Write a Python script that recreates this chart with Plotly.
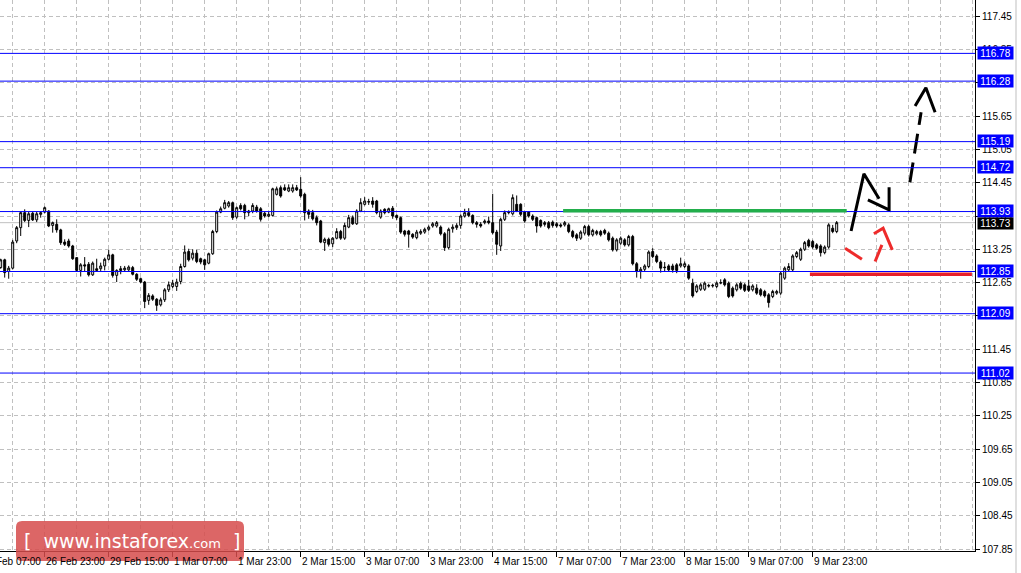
import plotly.graph_objects as go
from datetime import datetime, timedelta

# ---------------- data (USD/JPY H1) ----------------
opens = [112.92,113.06,112.85,112.91,113.40,113.64,113.91,113.77,113.90,113.78,
         113.88,113.92,113.94,113.68,113.70,113.60,113.38,113.40,113.31,113.10,
         112.87,112.97,112.98,112.79,112.90,112.90,112.95,113.07,113.15,112.78,
         112.90,112.88,112.88,112.92,112.80,112.72,112.66,112.33,112.41,112.35,
         112.25,112.34,112.52,112.58,112.58,112.67,112.94,113.21,113.09,113.18,
         113.08,113.06,113.00,113.17,113.57,113.92,113.99,114.03,114.09,113.83,
         114.04,114.04,113.91,113.94,114.01,113.98,113.90,113.85,113.86,114.24,
         114.36,114.36,114.30,114.30,114.36,114.33,114.24,113.94,113.91,113.82,
         113.76,113.37,113.43,113.35,113.45,113.57,113.45,113.65,113.82,113.71,
         113.94,114.06,114.10,114.12,114.12,113.83,113.97,113.92,113.99,113.86,
         113.82,113.58,113.58,113.52,113.46,113.54,113.56,113.61,113.67,113.67,
         113.65,113.53,113.28,113.62,113.64,113.68,113.85,113.91,113.86,113.73,
         113.70,113.73,113.76,113.73,113.56,113.31,113.79,113.91,113.89,114.06,
         114.06,113.92,113.92,113.85,113.82,113.77,113.73,113.73,113.74,113.71,
         113.69,113.69,113.69,113.57,113.51,113.45,113.54,113.66,113.51,113.53,
         113.57,113.59,113.54,113.45,113.24,113.36,113.42,113.33,113.48,112.99,
         112.85,112.89,112.94,113.21,113.13,113.02,112.93,112.95,112.95,112.97,
         112.95,112.94,112.95,112.64,112.49,112.53,112.53,112.60,112.59,112.58,
         112.64,112.70,112.64,112.55,112.52,112.64,112.61,112.59,112.52,112.55,
         112.52,112.49,112.43,112.40,112.46,112.46,112.73,112.88,112.88,113.12,
         113.07,113.25,113.41,113.39,113.33,113.31,113.19,113.29,113.63,113.57]
highs = [113.08,113.08,112.95,113.42,113.67,113.93,113.97,113.93,113.93,113.93,
         113.94,114.02,113.95,113.75,113.79,113.62,113.43,113.44,113.33,113.11,
         113.00,113.11,113.02,113.03,113.08,113.01,113.10,113.24,113.17,112.89,
         112.95,112.95,112.96,112.95,112.82,112.74,112.68,112.46,112.44,112.37,
         112.38,112.55,112.67,112.70,112.72,112.99,113.32,113.26,113.25,113.24,
         113.10,113.08,113.19,113.60,113.95,114.02,114.14,114.12,114.11,114.02,
         114.08,114.07,113.96,114.08,114.05,114.01,113.93,113.93,114.36,114.38,
         114.40,114.42,114.42,114.42,114.41,114.55,114.27,113.97,113.96,113.86,
         113.78,113.46,113.46,113.47,113.63,113.60,113.73,113.87,113.86,113.97,
         114.17,114.19,114.16,114.19,114.14,113.97,113.99,114.00,114.03,113.88,
         113.84,113.60,113.60,113.54,113.60,113.61,113.64,113.68,113.74,113.76,
         113.68,113.56,113.64,113.70,113.72,113.88,113.98,113.99,113.88,113.76,
         113.74,113.79,113.84,114.25,113.60,113.82,113.95,113.95,114.24,114.22,
         114.08,113.94,113.94,113.88,113.84,113.79,113.76,113.76,113.77,113.74,
         113.72,113.76,113.72,113.60,113.54,113.59,113.69,113.69,113.62,113.60,
         113.60,113.62,113.57,113.48,113.45,113.48,113.45,113.51,113.51,113.02,
         112.93,112.98,113.23,113.27,113.16,113.05,113.02,112.98,112.99,113.00,
         113.10,113.03,112.98,112.72,112.62,112.64,112.67,112.63,112.63,112.67,
         112.71,112.73,112.67,112.58,112.64,112.67,112.64,112.70,112.62,112.62,
         112.55,112.52,112.46,112.52,112.52,112.85,112.94,113.00,113.16,113.22,
         113.28,113.40,113.44,113.42,113.36,113.34,113.32,113.72,113.69,113.76]
lows = [112.90,112.74,112.72,112.89,113.36,113.49,113.74,113.65,113.76,113.74,
        113.82,113.90,113.65,113.55,113.55,113.33,113.31,113.28,113.06,112.86,
        112.76,112.85,112.76,112.77,112.86,112.86,112.87,113.05,112.74,112.66,
        112.80,112.86,112.86,112.78,112.68,112.64,112.19,112.25,112.32,112.14,
        112.22,112.30,112.48,112.55,112.50,112.62,112.92,113.03,113.05,113.00,
        112.98,112.88,112.98,113.15,113.54,113.90,113.97,114.00,113.78,113.80,
        113.95,113.79,113.85,113.90,113.91,113.75,113.82,113.83,113.84,114.22,
        114.18,114.30,114.28,114.27,114.30,114.18,113.77,113.80,113.77,113.68,
        113.36,113.22,113.30,113.29,113.43,113.42,113.42,113.63,113.69,113.69,
        113.92,114.04,114.05,114.00,113.88,113.80,113.88,113.90,113.80,113.78,
        113.53,113.48,113.28,113.44,113.43,113.51,113.53,113.58,113.64,113.64,
        113.50,113.22,113.25,113.55,113.60,113.62,113.82,113.83,113.70,113.64,
        113.64,113.70,113.70,113.52,113.15,113.22,113.76,113.88,113.86,113.92,
        113.85,113.73,113.82,113.76,113.55,113.64,113.66,113.61,113.64,113.64,
        113.64,113.66,113.54,113.45,113.40,113.42,113.50,113.48,113.48,113.50,
        113.48,113.51,113.39,113.21,113.21,113.33,113.30,113.30,112.96,112.74,
        112.72,112.85,112.91,113.09,113.00,112.83,112.85,112.85,112.83,112.82,
        112.92,112.91,112.70,112.38,112.46,112.50,112.50,112.56,112.56,112.55,
        112.62,112.58,112.37,112.38,112.49,112.52,112.48,112.48,112.49,112.43,
        112.40,112.38,112.20,112.37,112.43,112.43,112.70,112.85,112.85,113.09,
        113.04,113.22,113.28,113.26,113.24,113.12,113.16,113.26,113.54,113.54]
closes = [113.06,112.83,112.91,113.38,113.64,113.91,113.77,113.89,113.78,113.89,
          113.91,114.00,113.67,113.73,113.60,113.37,113.34,113.31,113.08,112.87,
          112.97,112.95,112.79,113.00,112.87,112.95,113.07,113.15,112.78,112.87,
          112.87,112.91,112.93,112.80,112.71,112.66,112.31,112.42,112.35,112.24,
          112.34,112.52,112.61,112.64,112.66,112.94,113.20,113.06,113.18,113.03,
          113.02,112.97,113.17,113.57,113.92,113.98,114.09,114.09,113.82,114.00,
          113.98,113.91,113.94,114.04,113.94,113.79,113.85,113.88,114.34,114.34,
          114.21,114.32,114.36,114.36,114.32,114.21,113.91,113.88,113.80,113.73,
          113.38,113.43,113.34,113.45,113.57,113.45,113.68,113.82,113.71,113.94,
          114.09,114.12,114.11,114.06,113.91,113.94,113.91,113.98,113.85,113.82,
          113.56,113.52,113.52,113.47,113.56,113.57,113.61,113.65,113.71,113.73,
          113.53,113.28,113.61,113.65,113.68,113.85,113.91,113.86,113.73,113.70,
          113.67,113.76,113.73,113.55,113.34,113.79,113.91,113.92,114.18,113.94,
          113.88,113.76,113.85,113.79,113.67,113.67,113.70,113.64,113.68,113.67,
          113.67,113.73,113.57,113.48,113.45,113.56,113.66,113.51,113.59,113.57,
          113.51,113.54,113.42,113.24,113.42,113.45,113.33,113.48,112.99,112.85,
          112.89,112.95,113.20,113.12,113.03,112.91,112.92,112.88,112.88,112.87,
          112.99,112.99,112.73,112.41,112.59,112.61,112.64,112.59,112.60,112.64,
          112.65,112.61,112.40,112.41,112.61,112.55,112.51,112.51,112.59,112.46,
          112.43,112.41,112.29,112.49,112.49,112.82,112.91,112.94,113.13,113.19,
          113.25,113.37,113.31,113.29,113.27,113.19,113.29,113.69,113.57,113.73]

first_bar_time = datetime(2016, 2, 26, 12)
date_labels = ["26 Feb 07:00", "26 Feb 23:00", "29 Feb 15:00", "1 Mar 07:00",
               "1 Mar 23:00", "2 Mar 15:00", "3 Mar 07:00", "3 Mar 23:00",
               "4 Mar 15:00", "7 Mar 07:00", "7 Mar 23:00", "8 Mar 15:00",
               "9 Mar 07:00", "9 Mar 23:00"]
price_ticks = [107.85, 108.45, 109.05, 109.65, 110.25, 110.85, 111.45, 112.05,
               112.65, 113.25, 113.85, 114.45, 115.05, 115.65, 116.25, 116.85, 117.45]
levels = [116.78, 116.28, 115.19, 114.72, 113.93, 112.85, 112.09, 111.02]
bid = 113.73
green_level = 113.945
red_level = 112.80

# hand-drawn forecast sketches (bar index, price)
black_zigzag_x = [212.6, 215.8, 219.6]
black_zigzag_y = [113.58, 114.61, 114.16]
black_head_x = [216.8, 222.1, 222.1]
black_head_y = [114.14, 113.96, 114.37]
up_shaft_x = [227.3, 230.1]
up_shaft_y = [114.46, 115.72]
up_head_x = [228.6, 231.3, 233.6]
up_head_y = [115.83, 116.16, 115.72]
red_seg1_x = [211.1, 215.3]
red_seg1_y = [113.27, 113.07]
red_seg2_x = [218.6, 220.3]
red_seg2_y = [113.03, 113.33]
red_head_x = [218.3, 220.6, 222.9]
red_head_y = [113.53, 113.63, 113.24]

# ---------------- time axis (H1 bars, weekends skipped) ----------------
def bar_times(start, n_before, n_total):
    t = start
    back = []
    for _ in range(n_before):
        t -= timedelta(hours=1)
        if t.weekday() == 6:
            t -= timedelta(days=2)
        back.append(t)
    back.reverse()
    fwd = []
    t = start
    while len(fwd) < n_total:
        fwd.append(t)
        t += timedelta(hours=1)
        if t.weekday() == 5:
            t += timedelta(days=2)
    return back + fwd

N_BEFORE = 10
times = bar_times(first_bar_time, N_BEFORE, 260)
fmt = lambda t: f"{t.day} {t.strftime('%b')} {t.strftime('%H:%M')}"
time_index = {fmt(t): i - N_BEFORE for i, t in enumerate(times)}
label_idx = [time_index[s] for s in date_labels]

x = list(range(len(closes)))

# ---------------- figure ----------------
W, H = 1021, 573
ML, MR, MT, MB = 0, 46, 0, 22
PW, PH = W - ML - MR, H - MT - MB
PX_PER_BAR = 4.0
X0 = -0.7 / PX_PER_BAR
XR = [X0, X0 + PW / PX_PER_BAR]
PX_PER_PRICE = 55.5
Y_BOTTOM = 107.85 - (PH - 549) / PX_PER_PRICE
YR = [Y_BOTTOM, Y_BOTTOM + PH / PX_PER_PRICE]

def xpaper(i):
    return (i - XR[0]) / (XR[1] - XR[0])

fig = go.Figure()
fig.add_trace(go.Candlestick(
    x=x, open=opens, high=highs, low=lows, close=closes,
    increasing=dict(line=dict(color="black", width=1), fillcolor="white"),
    decreasing=dict(line=dict(color="black", width=1), fillcolor="black"),
    whiskerwidth=0, showlegend=False, hoverinfo="skip"))

def sketch(xs, ys, color, width=3, dash=None):
    fig.add_trace(go.Scatter(x=xs, y=ys, mode="lines", cliponaxis=False,
                             line=dict(color=color, width=width, dash=dash),
                             showlegend=False, hoverinfo="skip"))

shapes = []
shapes.append(dict(type="line", xref="paper", x0=0, x1=1, yref="y", y0=bid, y1=bid,
                   line=dict(color="#C0C0C0", width=1), layer="below"))
for lv in levels:
    shapes.append(dict(type="line", xref="paper", x0=0, x1=1, yref="y", y0=lv, y1=lv,
                       line=dict(color="#0000FF", width=1)))
shapes.append(dict(type="line", xref="x", x0=140.6, x1=211.5, yref="y",
                   y0=green_level, y1=green_level, line=dict(color="#22AE4B", width=3.5)))
shapes.append(dict(type="line", xref="x", x0=202.3, x1=242.8, yref="y",
                   y0=red_level, y1=red_level, line=dict(color="#E8202A", width=3.5)))

sketch(black_zigzag_x, black_zigzag_y, "black")
sketch(black_head_x, black_head_y, "black")
sketch(up_shaft_x, up_shaft_y, "black", dash="20px,9px")
sketch(up_head_x, up_head_y, "black")
sketch(red_seg1_x, red_seg1_y, "#EE2B2B")
sketch(red_seg2_x, red_seg2_y, "#EE2B2B")
sketch(red_head_x, red_head_y, "#EE2B2B")

def px2paper(px, py):
    return (px - ML) / PW, (H - MB - py) / PH

def rounded_rect(x0, y0, x1, y1, r):
    def P(a, b):
        u, v = px2paper(a, b)
        return f"{u:.5f},{v:.5f}"
    return (f"M{P(x0 + r, y0)} L{P(x1 - r, y0)} Q{P(x1, y0)} {P(x1, y0 + r)} "
            f"L{P(x1, y1 - r)} Q{P(x1, y1)} {P(x1 - r, y1)} L{P(x0 + r, y1)} "
            f"Q{P(x0, y1)} {P(x0, y1 - r)} L{P(x0, y0 + r)} Q{P(x0, y0)} {P(x0 + r, y0)} Z")

shapes.append(dict(type="path", xref="paper", yref="paper",
                   path=rounded_rect(16, 521, 244, 561, 6),
                   fillcolor="rgba(214,75,75,0.85)", line=dict(width=0)))
u, _ = px2paper(1016, 0)
shapes.append(dict(type="line", xref="paper", yref="paper", x0=u, x1=u, y0=-0.05, y1=1,
                   line=dict(color="#BFBFBF", width=1)))

FONT = "Liberation Sans, Arial, sans-serif"
annotations = []
for s, i in zip(date_labels, label_idx):
    annotations.append(dict(x=xpaper(i), xref="paper", y=0, yref="paper", text=s,
                            showarrow=False, xanchor="left", yanchor="top", yshift=-3,
                            xshift=-1, font=dict(family=FONT, size=10, color="black")))
for lv in levels:
    annotations.append(dict(x=1, xref="paper", y=lv, yref="y", text=f"{lv:.2f}",
                            showarrow=False, xanchor="left", yanchor="middle", xshift=2,
                            yshift=0.5, bgcolor="#0000FF", width=35, height=12,
                            borderpad=0, font=dict(family=FONT, size=10, color="white")))
annotations.append(dict(x=1, xref="paper", y=bid, yref="y", text=f"{bid:.2f}",
                        showarrow=False, xanchor="left", yanchor="middle", xshift=2,
                        yshift=-0.5, bgcolor="#000000", width=35, height=11, borderpad=0,
                        font=dict(family=FONT, size=10, color="white")))
wx, wy = px2paper(132, 541)
annotations.append(dict(x=wx, y=wy, xref="paper", yref="paper", showarrow=False,
                        xanchor="center", yanchor="middle",
                        text="[  www.instaforex<span style='font-size:13px'>.com</span>  ]",
                        font=dict(family="DejaVu Sans, Verdana, sans-serif", size=19,
                                  color="white")))

grid = dict(gridcolor="#C0C0C0", griddash="4px,3px", gridwidth=1)
fig.update_layout(
    width=W, height=H, margin=dict(l=ML, r=MR, t=MT, b=MB, pad=0),
    paper_bgcolor="white", plot_bgcolor="white",
    shapes=shapes, annotations=annotations, showlegend=False,
    xaxis=dict(range=XR, rangeslider=dict(visible=False), showticklabels=False,
               tickmode="array", tickvals=label_idx, ticks="outside", ticklen=5,
               tickcolor="black", showline=True, linecolor="black", linewidth=1,
               zeroline=False, showgrid=True, **grid,
               minor=dict(tickmode="linear", tick0=label_idx[0] - 8, dtick=8,
                          showgrid=True, ticks="", **grid)),
    yaxis=dict(range=YR, side="right", tickmode="array", tickvals=price_ticks,
               ticktext=[f"{p:.2f}" for p in price_ticks], ticks="outside", ticklen=4,
               tickcolor="black", showline=True, linecolor="black", linewidth=1,
               zeroline=False, showgrid=True, **grid,
               tickfont=dict(family=FONT, size=10, color="black")),
)

fig.write_html("out.html", config={"displayModeBar": False},
               post_script="document.body.style.margin='0';document.body.style.overflow='hidden';")
